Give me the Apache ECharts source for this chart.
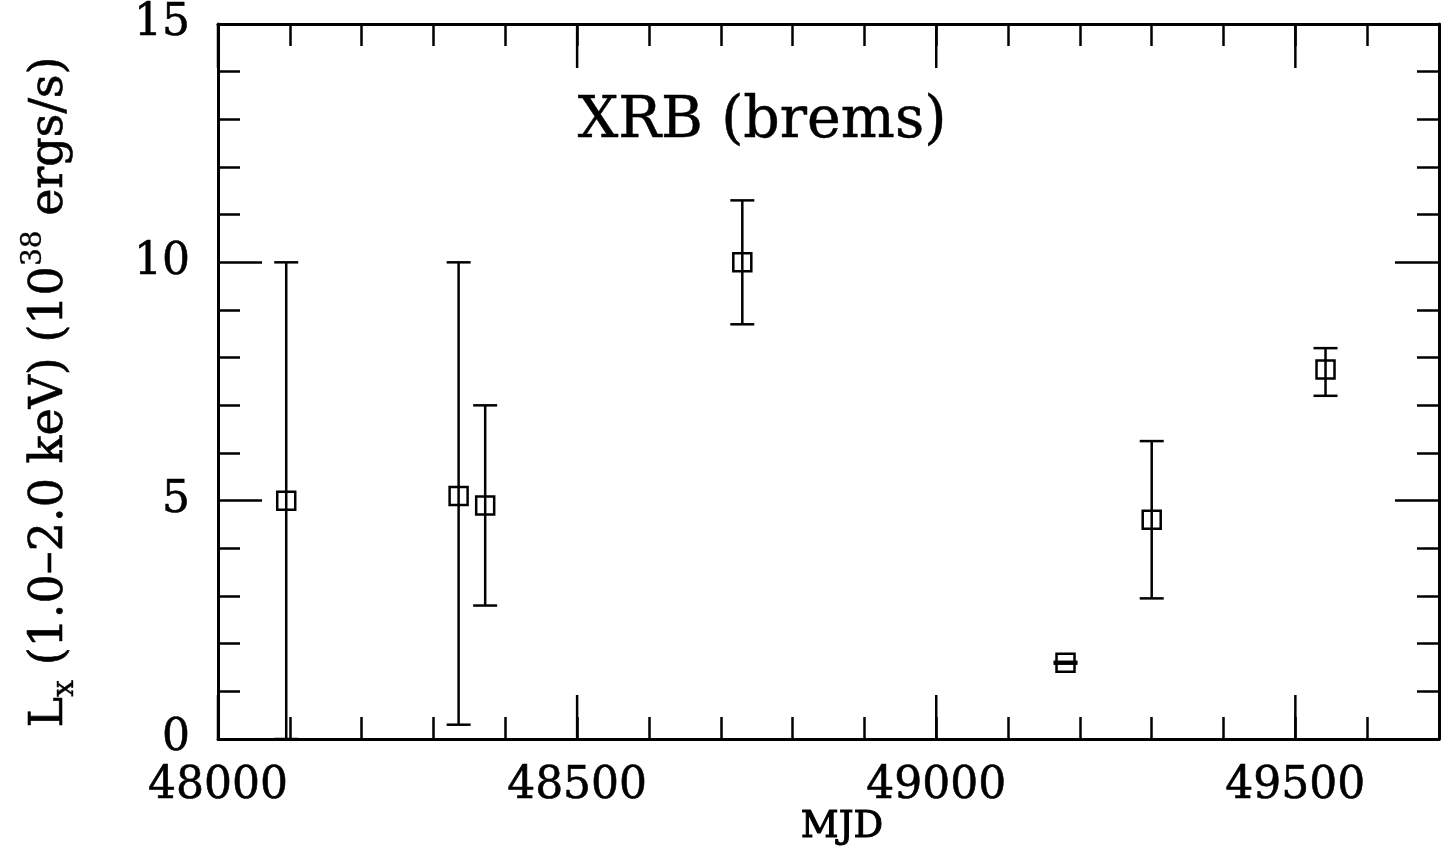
<!DOCTYPE html>
<html>
<head>
<meta charset="utf-8">
<script src="https://cdn.jsdelivr.net/npm/echarts@6/dist/echarts.min.js"></script>
<style>
  html, body { margin: 0; padding: 0; background: #fff; }
  #main { width: 1444px; height: 848px; }
</style>
</head>
<body>
<div id="main"></div>
<script>
// data
var mjd    = [48095, 48335, 48372, 48730, 49180, 49300, 49542];
var lx     = [5.0,   5.1,   4.9,   10.0,  1.6,   4.6,   7.75];
var lxLow  = [0.0,   0.3,   2.8,   8.7,   1.58,  2.95,  7.2];
var lxHigh = [10.0,  10.0,  7.0,   11.3,  1.62,  6.25,  8.2];
var xTickLabels = [48000, 48500, 49000, 49500];

var myChart = echarts.init(document.getElementById('main'));
var FONT = '"DejaVu Serif", "Liberation Serif", serif';

var points = mjd.map(function (d, i) {
    return [d, lx[i], lxLow[i], lxHigh[i]];
});

// x axis: ticks every 100, labels only every 500
function xAxisSide(pos, withLabels) {
    return {
        type: 'value', position: pos, min: 48000, max: 49700, interval: 100,
        axisLine: { show: true, onZero: false, lineStyle: { color: '#000', width: 3 } },
        axisTick: { inside: true, length: 22, lineStyle: { color: '#000', width: 2.5 } },
        axisLabel: {
            show: withLabels, margin: 26, showMinLabel: true, showMaxLabel: false,
            hideOverlap: false,
            formatter: function (v) { return xTickLabels.indexOf(v) >= 0 ? String(v) : ''; },
            fontFamily: FONT, fontSize: 44, color: '#000',
            textBorderColor: '#000', textBorderWidth: 0.6
        },
        splitLine: { show: false }
    };
}

function yAxisSide(pos, withLabels) {
    return {
        type: 'value', position: pos, min: 0, max: 15, interval: 5,
        axisLine: { show: true, onZero: false, lineStyle: { color: '#000', width: 3 } },
        axisTick: { inside: true, length: 44, lineStyle: { color: '#000', width: 2.5 } },
        minorTick: { show: true, splitNumber: 5, length: 22, lineStyle: { color: '#000', width: 2.5 } },
        axisLabel: {
            show: withLabels, margin: 28,
            fontFamily: FONT, fontSize: 44, color: '#000',
            textBorderColor: '#000', textBorderWidth: 0.6
        },
        splitLine: { show: false }
    };
}

var option = {
    backgroundColor: '#fff',
    animation: false,
    grid: { left: 218, right: 5, top: 24, bottom: 109 },
    xAxis: [xAxisSide('bottom', true), xAxisSide('top', false)],
    yAxis: [yAxisSide('left', true), yAxisSide('right', false)],
    graphic: [
        {   // title inside the frame
            type: 'text', x: 762, y: 122,
            style: { text: 'XRB (brems)', fontFamily: FONT, fontSize: 57, fill: '#000',
                     stroke: '#000', lineWidth: 0.5, align: 'center', verticalAlign: 'middle' }
        },
        {   // x axis name
            type: 'text', x: 842, y: 827,
            style: { text: 'MJD', fontFamily: FONT, fontSize: 37, fill: '#000',
                     stroke: '#000', lineWidth: 1, align: 'center', verticalAlign: 'middle' }
        },
        {   // y axis name, reads bottom to top
            type: 'text', x: 50, y: 392, rotation: Math.PI / 2,
            style: {
                text: '{n|L}{sub|x}{n| (1.0–2.0 keV) (10}{sup|38}{n| ergs/s)}',
                align: 'center', verticalAlign: 'middle',
                rich: {
                    n:   { fontFamily: FONT, fontSize: 46, fill: '#000', lineHeight: 60,
                           stroke: '#000', lineWidth: 0.6 },
                    sub: { fontFamily: FONT, fontSize: 30, fill: '#000', lineHeight: 60,
                           verticalAlign: 'bottom', stroke: '#000', lineWidth: 0.4 },
                    sup: { fontFamily: FONT, fontSize: 28, fill: '#000', lineHeight: 60,
                           verticalAlign: 'top', stroke: '#000', lineWidth: 0.4 }
                }
            }
        }
    ],
    series: [
        {   // long x ticks at the labelled values, bottom and top
            type: 'custom',
            xAxisIndex: 0,
            yAxisIndex: 0,
            data: xTickLabels.map(function (v) { return [v, 0]; }),
            silent: true,
            clip: false,
            renderItem: function (params, api) {
                var lo = api.coord([api.value(0), 0]);
                var hi = api.coord([api.value(0), 15]);
                var st = { stroke: '#000', lineWidth: 2.5 };
                return {
                    type: 'group',
                    children: [
                        { type: 'line', shape: { x1: lo[0], y1: lo[1], x2: lo[0], y2: lo[1] - 44 }, style: st },
                        { type: 'line', shape: { x1: hi[0], y1: hi[1], x2: hi[0], y2: hi[1] + 44 }, style: st }
                    ]
                };
            }
        },
        {   // points with error bars
            type: 'custom',
            xAxisIndex: 0,
            yAxisIndex: 0,
            data: points,
            clip: false,
            renderItem: function (params, api) {
                var x = api.value(0);
                var c = api.coord([x, api.value(1)]);
                var lo = api.coord([x, api.value(2)]);
                var hi = api.coord([x, api.value(3)]);
                var cap = 12, box = 18;
                var st = { stroke: '#000', lineWidth: 2.5, fill: null };
                return {
                    type: 'group',
                    children: [
                        { type: 'line', shape: { x1: c[0], y1: hi[1], x2: c[0], y2: lo[1] }, style: st },
                        { type: 'line', shape: { x1: c[0] - cap, y1: hi[1], x2: c[0] + cap, y2: hi[1] }, style: st },
                        { type: 'line', shape: { x1: c[0] - cap, y1: lo[1], x2: c[0] + cap, y2: lo[1] }, style: st },
                        { type: 'rect', shape: { x: c[0] - box / 2, y: c[1] - box / 2, width: box, height: box },
                          style: { stroke: '#000', lineWidth: 2.5, fill: null } }
                    ]
                };
            }
        }
    ]
};

myChart.setOption(option);
</script>
</body>
</html>
